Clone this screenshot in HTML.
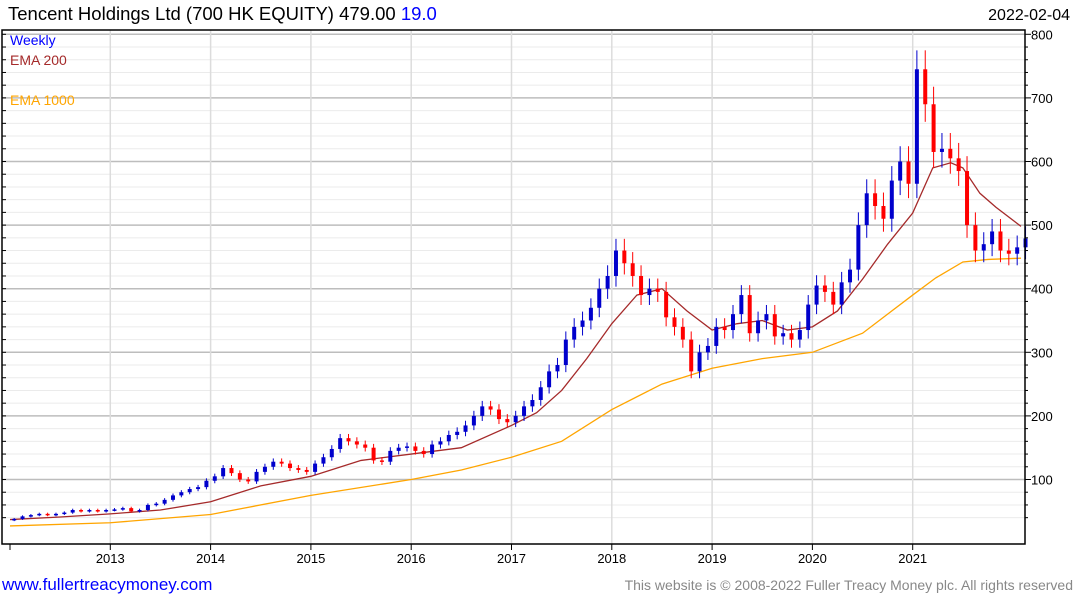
<!DOCTYPE html>
<html><head><meta charset="utf-8"><style>
body{margin:0;background:#fff;width:1075px;height:600px;overflow:hidden;font-family:"Liberation Sans",sans-serif}
svg{display:block}
</style></head><body>
<svg id="chart" width="1075" height="600" xmlns="http://www.w3.org/2000/svg" font-family="Liberation Sans, sans-serif">
<g id="grid"></g>
<g id="ema1000"></g>
<g id="ema200"></g>
<g id="candles"></g>
<g id="axes"></g>
<text x="8" y="20" font-size="18.5" fill="#000">Tencent Holdings Ltd (700 HK EQUITY) 479.00 <tspan fill="#0000ff">19.0</tspan></text>
<text x="1070" y="20" font-size="16" text-anchor="end" fill="#000">2022-02-04</text>
<text x="10" y="45" font-size="14" fill="#0000ff">Weekly</text>
<text x="10" y="65" font-size="14" fill="#a52a2a">EMA 200</text>
<text x="10" y="105" font-size="14" fill="#ffa500">EMA 1000</text>
<text x="2" y="590" font-size="17" fill="#0000ff">www.fullertreacymoney.com</text>
<text x="1073" y="590" font-size="14" text-anchor="end" fill="#888">This website is © 2008-2022 Fuller Treacy Money plc. All rights reserved</text>
</svg>
<script>
const closes = [
38,42,44,46,44,46,48,52,50,52,50,52,
53,55,50,52,60,62,68,75,80,85,88,98,
105,118,110,100,97,112,120,128,125,118,115,112,
125,135,148,165,160,155,150,130,128,145,150,152,
145,140,155,160,170,175,185,200,215,210,195,190,
200,215,225,245,270,280,320,340,350,370,400,420,
460,440,420,390,400,395,355,340,320,270,300,310,
340,335,360,390,330,350,360,325,330,320,335,375,
405,395,375,410,430,500,550,530,510,570,600,565,
745,690,615,620,605,585,500,460,470,490,460,455,
465,479];
const startOpen = 36;
const ema200T = [2012,2012.5,2013,2013.5,2014,2014.5,2015,2015.5,2016,2016.5,2017,2017.25,2017.5,2017.75,2018,2018.25,2018.5,2018.75,2019,2019.25,2019.5,2019.75,2020,2020.25,2020.5,2020.75,2021,2021.2,2021.38,2021.5,2021.67,2021.83,2022.08];
const ema200V = [37,41,46,52,65,90,105,130,140,150,185,205,240,290,345,390,400,365,335,345,350,335,340,365,415,470,519,590,598,590,550,528,498];
const ema1000T = [2012,2013,2014,2015,2016,2016.5,2017,2017.5,2018,2018.5,2019,2019.5,2020,2020.5,2021,2021.23,2021.5,2021.75,2022.08];
const ema1000V = [27,32,45,75,100,115,135,160,210,250,275,290,300,330,390,417,442,446,448];
const yTicks = [100,200,300,400,500,600,700,800];
const xYears = [2013,2014,2015,2016,2017,2018,2019,2020,2021];

const NS='http://www.w3.org/2000/svg';
const L=2,R=1025,T=30,B=544;
const x = t => 10 + (t-2012)*100.3;
const y = v => 34.3 + (800-v)*0.636;
function mk(tag,attrs,parent){const e=document.createElementNS(NS,tag);for(const k in attrs)e.setAttribute(k,attrs[k]);parent.appendChild(e);return e;}
const grid=document.getElementById('grid'),axes=document.getElementById('axes');
for(let v=40;v<=800;v+=20){
  const yy=y(v); if(yy<T||yy>B)continue;
  const major=v%100===0;
  const ln=mk('line',{x1:L,x2:R,y1:yy,y2:yy,stroke:major?'#bdbdbd':'#ebebeb','stroke-width':major?1.5:1},grid);
  
  
  const tk=mk('line',{x1:R,x2:R+(major?6:3),y1:yy,y2:yy,stroke:'#000'},axes);
  
  
  const tl=mk('line',{x1:L,x2:L+4,y1:yy,y2:yy,stroke:'#000'},axes);
  
  
}
yTicks.forEach(v=>{
  const t=mk('text',{x:R+6,y:y(v)+5,'font-size':13,fill:'#000'},axes);
  t.textContent=v;
  
  
});
const t0=mk('line',{x1:x(2012),x2:x(2012),y1:B,y2:B+6,stroke:'#000'},axes);


xYears.forEach(yr=>{
  const xx=x(yr);
  const g=mk('line',{x1:xx,x2:xx,y1:T,y2:B,stroke:'#dcdcdc','stroke-width':1.5},grid);
  
  
  const tk=mk('line',{x1:xx,x2:xx,y1:B,y2:B+6,stroke:'#000'},axes);
  
  
  const lb=mk('text',{x:xx,y:B+19,'font-size':13,'text-anchor':'middle',fill:'#000'},axes);
  lb.textContent=yr;
  
  
});
const frame=mk('path',{d:`M${L},${T}H${R}V${B}H${L}Z`,fill:'none',stroke:'#000','stroke-width':1.5},axes);


function line(ts,vs,color,parent,name){
  const p=mk('polyline',{points:ts.map((t,i)=>x(t)+','+y(vs[i])).join(' '),fill:'none',stroke:color,'stroke-width':1.3},parent);
  
  
}
line(ema1000T,ema1000V,'#ffa500',document.getElementById('ema1000'),'ema-1000');
line(ema200T,ema200V,'#a52a2a',document.getElementById('ema200'),'ema-200');
const cg=document.getElementById('candles');
closes.forEach((c,i)=>{
  const o=i===0?startOpen:closes[i-1];
  const t=2012+(i+0.5)/12;
  const xx=x(t);
  const up=c>=o;
  const col=up?'#0000cc':'#ff0000';
  const hi=Math.max(o,c)*1.04, lo=Math.min(o,c)*0.96;
  const w=mk('line',{x1:xx,x2:xx,y1:y(hi),y2:y(lo),stroke:col,'stroke-width':1},cg);
  
  
  const top=y(Math.max(o,c)),bot=y(Math.min(o,c));
  const r=mk('rect',{x:xx-2,y:top,width:4,height:Math.max(1.5,bot-top),fill:col},cg);
  
  
});
</script>
</body></html>
